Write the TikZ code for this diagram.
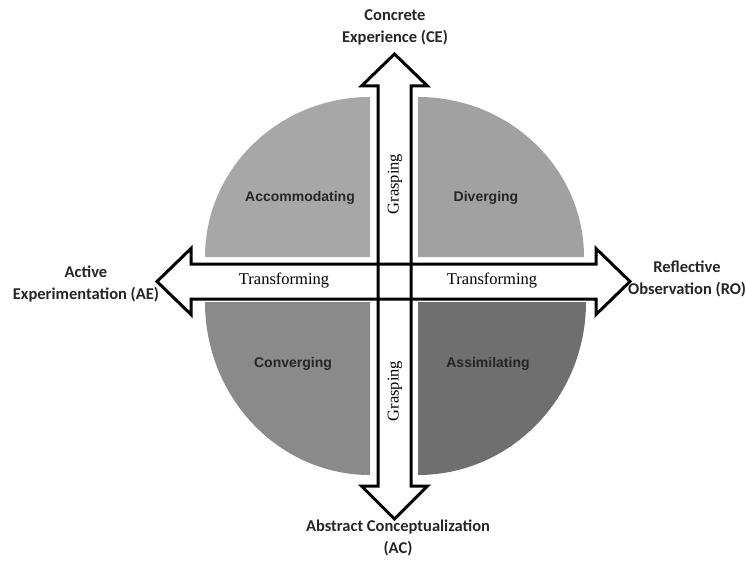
\documentclass[tikz,border=0pt]{standalone}
\usepackage{fontspec}
\setmainfont{Liberation Serif}
\setsansfont{Liberation Sans}
\newfontfamily\calibri{Carlito}
\definecolor{accomgray}{HTML}{A7A7A7}
\definecolor{divergray}{HTML}{A1A1A1}
\definecolor{convergray}{HTML}{8A8A8A}
\definecolor{assimgray}{HTML}{6F6F6F}

\begin{document}
\begin{tikzpicture}
    [x=1pt, y=-1pt,
    pole/.style ={font=\calibri\bfseries\fontsize{16.5}{22}\selectfont,
        align=center, text=black!85},
    learnstyle/.style ={font=\sffamily\bfseries\fontsize{14}{16}\selectfont,
        text=black!85},
    dimension/.style ={font=\rmfamily\fontsize{16.5}{18}\selectfont},
    block arrow/.style ={draw=black, line width=3pt, line join=miter}
    ]
    \useasboundingbox (0,0) rectangle (746,561);

    \fill[accomgray] (370,257) -- (370,97)
        arc[start angle=270, end angle=180, x radius=165, y radius=160] -- cycle;
    \fill[divergray] (418,257) -- (418,97)
        arc[start angle=270, end angle=360, x radius=166, y radius=160] -- cycle;
    \fill[convergray] (370,302) -- (205,302)
        arc[start angle=180, end angle=90, x radius=165, y radius=173] -- cycle;
    \fill[assimgray] (418,302) -- (418,475)
        arc[start angle=90, end angle=0, x radius=168, y radius=173] -- cycle;

    \draw[block arrow, fill=white] (157,281.5) -- (191,248.5) -- (191,264) -- (596,264)
        -- (596,248.5) -- (630,281.5) -- (596,314.5) -- (596,299) -- (191,299)
        -- (191,314.5) -- cycle;
    \draw[block arrow] (394.5,54) -- (427.5,86) -- (411,86) -- (411,486)
        -- (427.5,486) -- (394.5,519) -- (361.5,486) -- (378,486) -- (378,86)
        -- (361.5,86) -- cycle;

    \node[learnstyle] (accom) at (300,198) {Accommodating};
    \node[learnstyle] (diver) at (486,198) {Diverging};
    \node[learnstyle] (conver) at (293,364) {Converging};
    \node[learnstyle] (assim) at (488,364) {Assimilating};

    \node[dimension] (transleft) at (284,280) {Transforming};
    \node[dimension] (transright) at (492,280) {Transforming};
    \node[dimension, rotate=90] (graspup) at (395,184) {Grasping};
    \node[dimension, rotate=90] (graspdown) at (395,391) {Grasping};

    \node[pole] (ce) at (395,27) {Concrete\\Experience (CE)};
    \node[pole] (ae) at (86,284) {Active\\Experimentation (AE)};
    \node[pole] (ro) at (687,279) {Reflective\\Observation (RO)};
    \node[pole] (ac) at (398,538) {Abstract Conceptualization\\(AC)};
\end{tikzpicture}
\end{document}
